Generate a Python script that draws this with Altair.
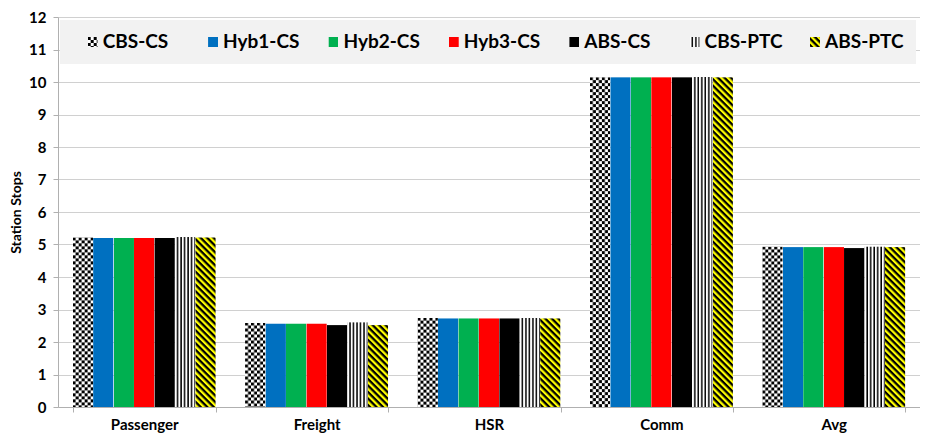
import base64
import altair as alt
import pandas as pd

categories = ["Passenger", "Freight", "HSR", "Comm", "Avg"]
series = ["CBS-CS", "Hyb1-CS", "Hyb2-CS", "Hyb3-CS", "ABS-CS", "CBS-PTC", "ABS-PTC"]

cbs_cs = [5.22, 2.60, 2.75, 10.15, 4.94]
hyb1_cs = [5.20, 2.57, 2.73, 10.15, 4.92]
hyb2_cs = [5.20, 2.57, 2.73, 10.15, 4.92]
hyb3_cs = [5.20, 2.57, 2.73, 10.15, 4.92]
abs_cs = [5.20, 2.52, 2.73, 10.15, 4.89]
cbs_ptc = [5.23, 2.61, 2.74, 10.16, 4.94]
abs_ptc = [5.22, 2.52, 2.73, 10.15, 4.92]

values = [cbs_cs, hyb1_cs, hyb2_cs, hyb3_cs, abs_cs, cbs_ptc, abs_ptc]


def svg_uri(defs, fill):
    svg = ('<svg xmlns="http://www.w3.org/2000/svg" width="100%" height="100%">'
           f'<defs>{defs}</defs>'
           f'<rect x="0" y="0" width="100%" height="100%" fill="{fill}"/></svg>')
    return "data:image/svg+xml;base64," + base64.b64encode(svg.encode()).decode()


checker = ('<pattern id="p" width="6" height="6" patternUnits="userSpaceOnUse">'
           '<rect width="6" height="6" fill="#ffffff"/>'
           '<rect width="3" height="3" fill="#000000"/>'
           '<rect x="3" y="3" width="3" height="3" fill="#000000"/></pattern>')
vstripes = ('<pattern id="p" width="3.5" height="4" patternUnits="userSpaceOnUse">'
            '<rect width="3.5" height="4" fill="#ffffff"/>'
            '<rect x="2" width="1.5" height="4" fill="#000000"/></pattern>')
diag = ('<pattern id="p" width="4.6" height="4.6" patternUnits="userSpaceOnUse" '
        'patternTransform="rotate(45)">'
        '<rect width="4.6" height="4.6" fill="#ffff00"/>'
        '<rect width="4.6" height="2.3" fill="#000000"/></pattern>')

styles = {
    "CBS-CS": svg_uri(checker, "url(#p)"),
    "Hyb1-CS": svg_uri("", "#0070c0"),
    "Hyb2-CS": svg_uri("", "#00b050"),
    "Hyb3-CS": svg_uri("", "#ff0000"),
    "ABS-CS": svg_uri("", "#000000"),
    "CBS-PTC": svg_uri(vstripes, "url(#p)"),
    "ABS-PTC": svg_uri(diag, "url(#p)"),
}

rows = []
for s, vals in zip(series, values):
    for c, v in zip(categories, vals):
        rows.append({"category": c, "series": s, "value": v, "url": styles[s]})
df = pd.DataFrame(rows)

leg = pd.DataFrame({"series": series, "url": [styles[s] for s in series]})

FONT = "Lato"

bars = alt.Chart(df).mark_image(aspect=False).encode(
    x=alt.X("category:N", sort=categories,
            scale=alt.Scale(paddingInner=0.17, paddingOuter=0.085),
            axis=alt.Axis(title=None, labelAngle=0, tickBand="extent", tickSize=5,
                          tickColor="#b0b0b0", domainColor="#b0b0b0",
                          labelFont=FONT, labelFontSize=15, labelFontWeight="bold",
                          labelColor="#000000", labelPadding=5, grid=False)),
    xOffset=alt.XOffset("series:N", sort=series,
                        scale=alt.Scale(domain=series, paddingInner=0, paddingOuter=0)),
    y=alt.Y("value:Q", scale=alt.Scale(domain=[0, 12], nice=False),
            axis=alt.Axis(values=list(range(13)), title="Station Stops",
                          titleFont=FONT, titleFontSize=14, titleFontWeight="bold",
                          titleColor="#000000", titlePadding=5,
                          labelFont=FONT, labelFontSize=15, labelFontWeight="bold",
                          labelColor="#000000", labelPadding=7, tickSize=5,
                          tickColor="#b0b0b0", domainColor="#b0b0b0",
                          gridColor="#d0d0d0")),
    url="url:N",
)

box = alt.Chart(pd.DataFrame({"a": [0]})).mark_rect(fill="#f2f2f2").encode(
    x=alt.value(2), x2=alt.value(858), y=alt.value(3), y2=alt.value(47)
)

leg_x = alt.X("series:N", sort=series,
              scale=alt.Scale(type="point", domain=series, range=[34.7, 757], padding=0),
              axis=None)

leg_img = alt.Chart(leg).mark_image(width=10, height=10, aspect=False,
                                    align="center", baseline="middle").encode(
    x=leg_x, y=alt.value(25), url="url:N"
)

leg_txt = alt.Chart(leg).mark_text(align="left", baseline="middle", dx=10,
                                   font=FONT, fontSize=19, fontWeight="bold",
                                   color="#000000").encode(
    x=leg_x, y=alt.value(25), text="series:N"
)

chart = alt.layer(bars, box, leg_img, leg_txt).resolve_scale(
    x="independent"
).properties(
    width=862, height=390,
    padding={"left": 50, "top": 9, "right": 0, "bottom": 30},
    autosize=alt.AutoSizeParams(type="none"),
).configure_view(stroke=None)

chart.save("out.html", embed_options={"renderer": "svg", "actions": False})
